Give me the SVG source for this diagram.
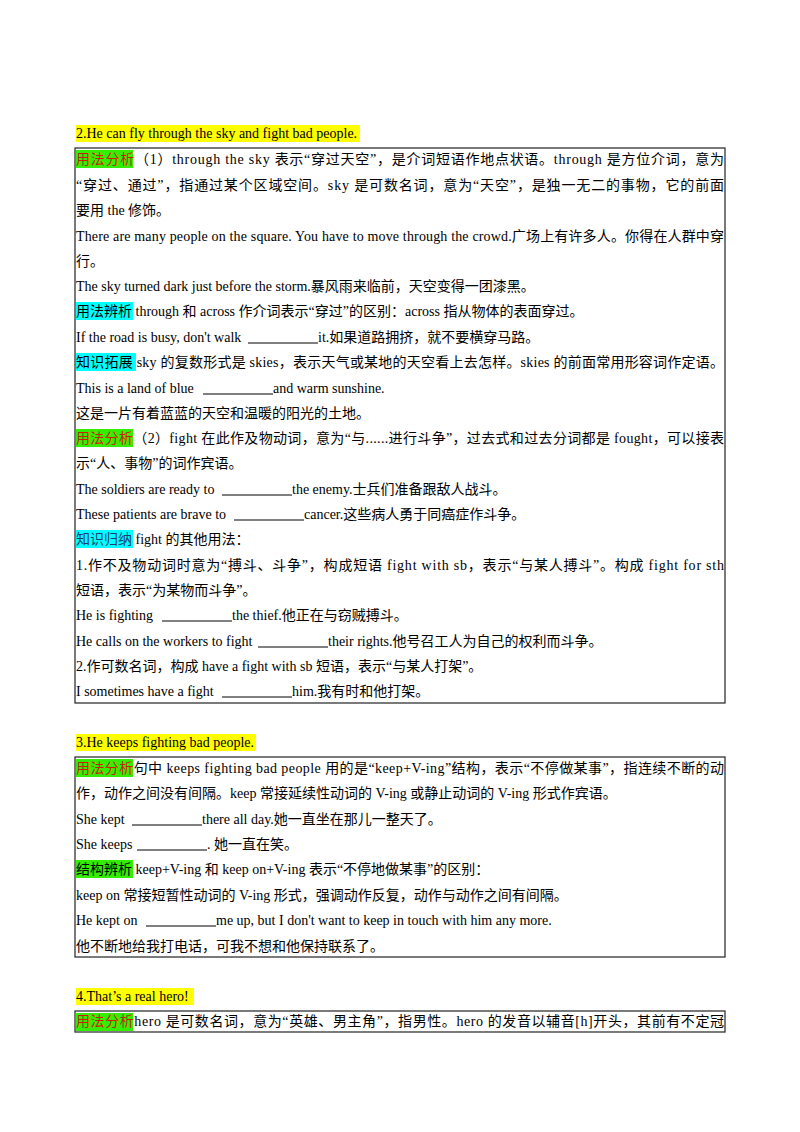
<svg xmlns="http://www.w3.org/2000/svg" width="800" height="1132" viewBox="0 0 800 1132" xml:space="preserve">
<style>
text{font-family:"Liberation Serif","Noto Sans CJK SC",serif;font-size:14px;fill:#000}
.box{fill:none;stroke:#333;stroke-width:1.3}
.y{fill:#ffff00}.g{fill:#33ee00}.c{fill:#00ffff}
.r{fill:#d41a00}
.bl{stroke:#000;stroke-width:1}
</style>
<rect width="800" height="1132" fill="#fff"/>
<g id="sec2">
<rect class="y" x="76" y="125" width="284" height="17"/>
<text x="76" y="138">2.He can fly through the sky and fight bad people.</text>
<rect class="box" x="75" y="148" width="650" height="555"/>
<rect class="g" x="76" y="150" width="57" height="18"/>
<text x="76" y="164" textLength="648" lengthAdjust="spacing"><tspan class="r">用法分析</tspan>（1）through the sky 表示“穿过天空”，是介词短语作地点状语。through 是方位介词，意为</text>
<text x="76" y="190" textLength="648" lengthAdjust="spacing">“穿过、通过”，指通过某个区域空间。sky 是可数名词，意为“天空”，是独一无二的事物，它的前面</text>
<text x="76" y="215">要用 the 修饰。</text>
<text x="76" y="241" textLength="648" lengthAdjust="spacing">There are many people on the square. You have to move through the crowd.广场上有许多人。你得在人群中穿</text>
<text x="76" y="266">行。</text>
<text x="76" y="291">The sky turned dark just before the storm.暴风雨来临前，天空变得一团漆黑。</text>
<rect class="c" x="76" y="302" width="57" height="18"/>
<text x="76" y="316">用法辨析  through 和 across 作介词表示“穿过”的区别：across 指从物体的表面穿过。</text>
<text x="76" y="342">If the road is busy, don't walk</text><line class="bl" x1="248" y1="343" x2="318" y2="343"/><text x="318" y="342">it.如果道路拥挤，就不要横穿马路。</text>
<rect class="c" x="76" y="353" width="60" height="18"/>
<text x="76" y="367" textLength="648" lengthAdjust="spacing">知识拓展  sky 的复数形式是 skies，表示天气或某地的天空看上去怎样。skies 的前面常用形容词作定语。</text>
<text x="76" y="393">This is a land of blue</text><line class="bl" x1="203" y1="394" x2="273" y2="394"/><text x="273" y="393">and warm sunshine.</text>
<text x="76" y="418">这是一片有着蓝蓝的天空和温暖的阳光的土地。</text>
<rect class="g" x="76" y="429" width="57" height="18"/>
<text x="76" y="443" textLength="648" lengthAdjust="spacing"><tspan class="r">用法分析</tspan>（2）fight 在此作及物动词，意为“与......进行斗争”，过去式和过去分词都是 fought，可以接表</text>
<text x="76" y="468">示“人、事物”的词作宾语。</text>
<text x="76" y="494">The soldiers are ready to</text><line class="bl" x1="222" y1="495" x2="292" y2="495"/><text x="292" y="494">the enemy.士兵们准备跟敌人战斗。</text>
<text x="76" y="519">These patients are brave to</text><line class="bl" x1="234" y1="520" x2="304" y2="520"/><text x="304" y="519">cancer.这些病人勇于同癌症作斗争。</text>
<rect class="c" x="76" y="530" width="57" height="18"/>
<text x="76" y="544"><tspan fill="#1a3d6e">知识归纳</tspan>  fight 的其他用法：</text>
<text x="76" y="570" textLength="648" lengthAdjust="spacing">1.作不及物动词时意为“搏斗、斗争”，构成短语 fight with sb，表示“与某人搏斗”。构成 fight for sth</text>
<text x="76" y="595">短语，表示“为某物而斗争”。</text>
<text x="76" y="620">He is fighting</text><line class="bl" x1="162" y1="621" x2="232" y2="621"/><text x="232" y="620">the thief.他正在与窃贼搏斗。</text>
<text x="76" y="646">He calls on the workers to fight</text><line class="bl" x1="258" y1="647" x2="328" y2="647"/><text x="328" y="646">their rights.他号召工人为自己的权利而斗争。</text>
<text x="76" y="671">2.作可数名词，构成 have a fight with sb 短语，表示“与某人打架”。</text>
<text x="76" y="696">I sometimes have a fight</text><line class="bl" x1="222" y1="697" x2="292" y2="697"/><text x="292" y="696">him.我有时和他打架。</text>
</g>
<g id="sec3">
<rect class="y" x="76" y="734" width="180" height="17"/>
<text x="76" y="747">3.He keeps fighting bad people.</text>
<rect class="box" x="75" y="757" width="650" height="200"/>
<rect class="g" x="76" y="759" width="57" height="18"/>
<text x="76" y="773" textLength="648" lengthAdjust="spacing"><tspan class="r">用法分析</tspan>句中 keeps fighting bad people 用的是“keep+V-ing”结构，表示“不停做某事”，指连续不断的动</text>
<text x="76" y="798">作，动作之间没有间隔。keep 常接延续性动词的 V-ing 或静止动词的 V-ing 形式作宾语。</text>
<text x="76" y="824">She kept</text><line class="bl" x1="132" y1="825" x2="202" y2="825"/><text x="202" y="824">there all day.她一直坐在那儿一整天了。</text>
<text x="76" y="849">She keeps</text><line class="bl" x1="137" y1="850" x2="207" y2="850"/><text x="207" y="849">.  她一直在笑。</text>
<rect class="g" x="76" y="860" width="57" height="18"/>
<text x="76" y="874">结构辨析  keep+V-ing 和 keep on+V-ing 表示“不停地做某事”的区别：</text>
<text x="76" y="900">keep on 常接短暂性动词的 V-ing 形式，强调动作反复，动作与动作之间有间隔。</text>
<text x="76" y="925">He kept on</text><line class="bl" x1="146" y1="926" x2="216" y2="926"/><text x="216" y="925">me up, but I don't want to keep in touch with him any more.</text>
<text x="76" y="951">他不断地给我打电话，可我不想和他保持联系了。</text>
</g>
<g id="sec4">
<rect class="y" x="76" y="988" width="118" height="17"/>
<text x="76" y="1001">4.That’s a real hero!</text>
<rect class="box" x="75" y="1011" width="650" height="21"/>
<rect class="g" x="76" y="1013" width="57" height="18"/>
<text x="76" y="1026" textLength="648" lengthAdjust="spacing"><tspan class="r">用法分析</tspan>hero 是可数名词，意为“英雄、男主角”，指男性。hero 的发音以辅音[h]开头，其前有不定冠</text>
</g>
</svg>
